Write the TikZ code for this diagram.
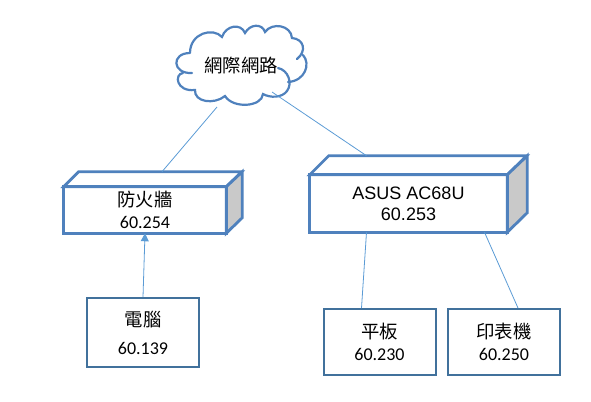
\documentclass[tikz,border=0pt]{standalone}
\usepackage{fontspec}
\setmainfont{Carlito}
\newfontfamily\cjkfont{Noto Sans CJK TC}[Scale=1.02]
\newfontfamily\arialfont{Liberation Sans}
\usetikzlibrary{arrows.meta,calc}
\definecolor{cubeblue}{HTML}{4F81BD}
\definecolor{boxblue}{HTML}{41719C}
\definecolor{linkblue}{HTML}{5B9BD5}
\definecolor{sidegray}{HTML}{C9C9C9}

\begin{document}
\begin{tikzpicture}[x=0.75pt,y=-0.75pt,
    every node/.style={font=\fontsize{13.5pt}{16pt}\selectfont, align=center, inner sep=0pt},
    cubefront/.style={rectangle, minimum width=#1},
    devicebox/.style={rectangle, draw=boxblue, line width=1.5pt, fill=white, minimum width=84pt, minimum height=49.5pt},
    cubeedge/.style={draw=cubeblue, line width=2.1pt, line join=miter},
    cloudedge/.style={draw=cubeblue, line width=1.65pt, line cap=round},
    linkline/.style={draw=linkblue, line width=0.6pt}]
  \useasboundingbox (0,0) rectangle (591,401);

  % firewall
  \node (firewall) [cubefront=121.5pt, minimum height=34.5pt] at (145,210) {};
  \draw[cubeedge, fill=white] (firewall.north west) -- ++(15,-15) -- ++(163,0) -- (firewall.north east) -- cycle;
  \draw[cubeedge, fill=sidegray] (firewall.north east) -- ++(16,-15) -- ++(0,46) -- (firewall.south east) -- cycle;
  \draw[cubeedge] (firewall.north west) rectangle (firewall.south east);
  \node (fwtext) at (145,210) {{\cjkfont 防火牆}\\[1pt]60.254};

  % router
  \node (router) [cubefront=147.75pt, minimum height=42.75pt] at (408.5,203.5) {};
  \draw[cubeedge, fill=white] (router.north west) -- ++(19,-19) -- ++(198,0) -- (router.north east) -- cycle;
  \draw[cubeedge, fill=sidegray] (router.north east) -- ++(20,-19) -- ++(0,57) -- (router.south east) -- cycle;
  \draw[cubeedge] (router.north west) rectangle (router.south east);
  \node (rttext) at (408.5,203.5) {{\arialfont ASUS AC68U}\\{\arialfont 60.253}};

  % devices
  \node (pc) [devicebox, minimum height=51.75pt] at (143,332.5) {{\cjkfont 電腦}\\[5pt]60.139};
  \node (tablet) [devicebox] at (379.5,342) {{\cjkfont 平板}\\60.230};
  \node (printer) [devicebox] at (504,342) {{\cjkfont 印表機}\\60.250};

  % cloud
  \draw[cloudedge] (190,53)
    .. controls (190,33) and (213,27) .. (222,37)
    .. controls (226,25) and (241,23) .. (245,33)
    .. controls (250,24) and (262,23) .. (265,32)
    .. controls (272,22) and (291,25) .. (292,38)
    .. controls (304,39) and (307,51) .. (297,59)
    (303,55) .. controls (311,64) and (305,81) .. (288,82)
    (278,68) .. controls (288,70) and (293,83) .. (287,91)
    .. controls (282,98) and (270,98) .. (263,94)
    .. controls (262,107) and (233,109) .. (225,96)
    .. controls (214,105) and (194,102) .. (195,90)
    .. controls (176,92) and (174,74) .. (183,73)
    (192,73) .. controls (172,74) and (171,53) .. (190,53);
  \node (cloud) at (241,66) {\cjkfont 網際網路};
  \coordinate (cloudleft) at (217,107);
  \coordinate (cloudright) at (272,92);

  \draw[linkline] (cloudleft) -- ($(firewall.north)+(17,-15)$);
  \draw[linkline] (cloudright) -- ($(router.north)+(-42,-19)$);
  \draw[linkline, -{Triangle[length=6pt,width=6pt]}] (pc.north) -- (firewall.south);
  \draw[linkline] ($(router.south)+(-42,0)$) -- ($(tablet.north)+(-18,0)$);
  \draw[linkline] ($(router.south)+(76,0)$) -- ($(printer.north)+(14,0)$);
\end{tikzpicture}
\end{document}
